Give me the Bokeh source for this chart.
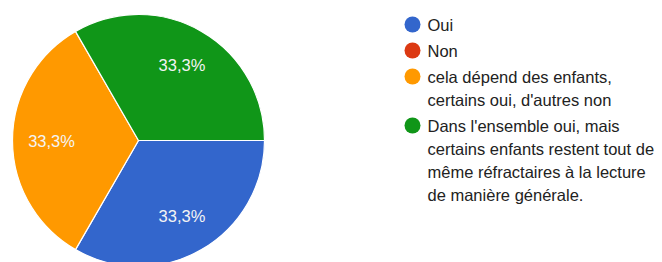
import math
from bokeh.plotting import figure
from bokeh.models import Range1d
from bokeh.core.properties import value
from bokeh.embed import file_html
from bokeh.resources import INLINE

# ---- data ----
labels = ["Oui", "Non", "cela dépend des enfants,\ncertains oui, d'autres non",
          "Dans l'ensemble oui, mais\ncertains enfants restent tout de\nmême réfractaires à la lecture\nde manière générale."]
counts = [1, 0, 1, 1]
colors = ["#3366cc", "#dc3912", "#ff9900", "#109618"]

# ---- layout (pixel-like data coordinates, y up) ----
W, H = 662, 262
p = figure(width=W, height=H, output_backend="svg", toolbar_location=None,
           x_range=Range1d(0, W), y_range=Range1d(262 - H, 262),
           min_border=0)
p.axis.visible = False
p.grid.visible = False
p.outline_line_color = None
p.background_fill_color = "white"
p.border_fill_color = "white"

cx, cy, R = 138, 262 - 140, 126
total = sum(counts)
cum = 0.0
ws, we, wc = [], [], []
lx, ly, lt = [], [], []
for c, col in zip(counts, colors):
    a0 = -2 * math.pi * cum / total
    a1 = -2 * math.pi * (cum + c) / total
    cum += c
    if c <= 0:
        continue
    ws.append(a1); we.append(a0); wc.append(col)
    mid = (a0 + a1) / 2
    lx.append(cx + 0.69 * R * math.cos(mid))
    ly.append(cy + 0.69 * R * math.sin(mid))
    lt.append(f"{100 * c / total:.1f}%".replace(".", ","))

p.wedge(x=cx, y=cy, radius=R, start_angle=ws, end_angle=we, fill_color=wc,
        line_color="#ffffff", line_width=1.2, direction="anticlock")
p.text(x=lx, y=ly, text=lt, text_color="#f4f4f4", text_font=value("Liberation Sans"),
       text_font_size="16.5px", text_align="center", text_baseline="middle")

# legend
lgx, lgy0, lh, gap = 412, 262 - 24, 23, 3
y = lgy0
mx, my, mc = [], [], []
tx, ty, tt = [], [], []
for lab, col in zip(labels, colors):
    mx.append(lgx); my.append(y); mc.append(col)
    for i, line in enumerate(lab.split("\n")):
        tx.append(lgx + 15); ty.append(y - i * lh); tt.append(line)
    y -= len(lab.split("\n")) * lh + gap
p.scatter(x=mx, y=my, size=16, fill_color=mc, line_color=None)
p.text(x=tx, y=ty, text=tt, text_color="#222222", text_font=value("Liberation Sans"),
       text_font_size="16.5px", text_align="left", text_baseline="middle")

open("out.html", "w").write(file_html(p, INLINE))
